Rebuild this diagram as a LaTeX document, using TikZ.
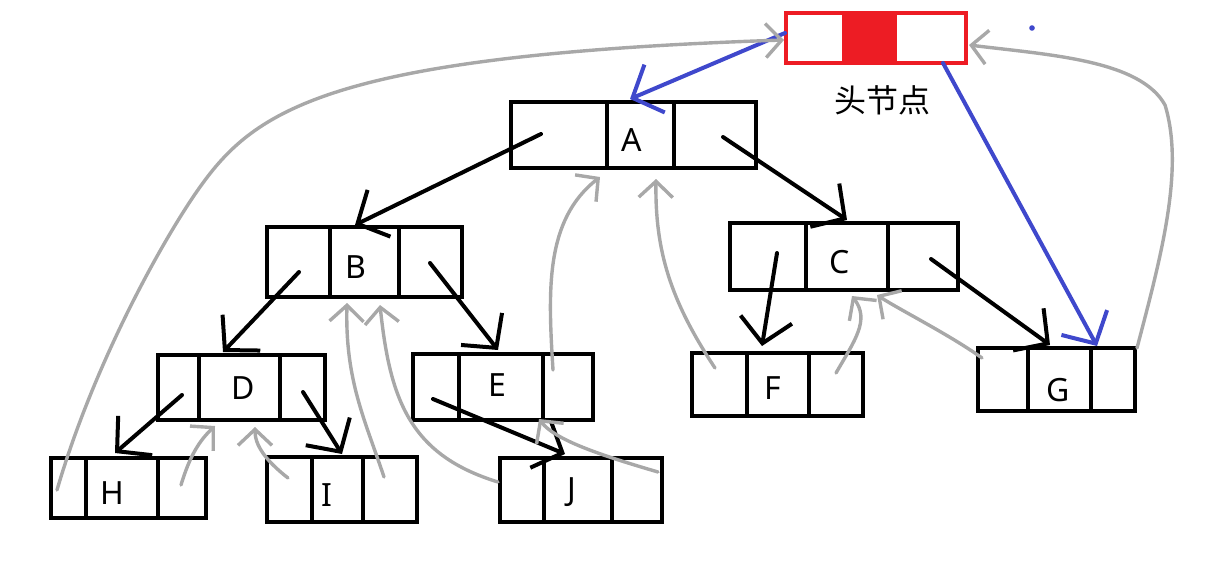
\documentclass[tikz,border=0pt]{standalone}
\usepackage{fontspec}
\setmainfont{Noto Sans}
\newfontfamily\cjk{Noto Sans CJK SC}
\usetikzlibrary{arrows.meta}
\definecolor{blu}{HTML}{3F48CC}
\definecolor{redh}{HTML}{ED1C24}
\definecolor{thr}{HTML}{A8A8A8}
\tikzset{
 box/.style={draw=black, line width=2pt, inner sep=0pt, outer sep=0pt},
 divl/.style={black, line width=2pt},
 lab/.style={inner sep=0pt, font=\fontsize{16}{18}\selectfont},
 ptr/.style={black, line width=2pt, line cap=round, -{Straight Barb[length=12pt,width=26pt]}},
 bptr/.style={blu, line width=2pt, line cap=round, -{Straight Barb[length=12pt,width=26pt]}},
 thread/.style={thr, line width=1.7pt, line cap=round, -{Straight Barb[length=8pt,width=17pt]}},
}
\newcommand\mybox[9]{%
 \pgfmathsetmacro\bw{(#4-#2)/2}\pgfmathsetmacro\bh{(#5-#3)/2}%
 \node[box, minimum width=\bw pt, minimum height=\bh pt] (#1) at ({(#2+#4)/2},{(#3+#5)/2}) {};
 \draw[divl] (#6,#3) -- (#6,#5) (#7,#3) -- (#7,#5);
 \node[lab] (#1t) at (#9) {#8};
}
\begin{document}
\begin{tikzpicture}[x=0.5pt,y=-0.5pt]
\useasboundingbox (0,0) rectangle (1215,568);
% head node
\fill[redh] (842,14) rectangle (897,62);
\node[draw=redh, line width=1.8pt, inner sep=0pt, minimum width=90pt, minimum height=25pt] (head) at (876,38) {};
\node[inner sep=0pt, font=\cjk\fontsize{16}{18}\selectfont] (headt) at (882,100) {头节点};
\fill[blu] (1032,28) circle (1.4pt);
% tree nodes
\mybox{A}{511}{102}{756}{168}{607}{674}{A}{632,140}
\mybox{B}{267}{227}{462}{297}{330}{399}{B}{356,267}
\mybox{C}{730}{223}{958}{290}{806}{888}{C}{840,262}
\mybox{D}{158}{355}{325}{420}{199}{280}{D}{243,388}
\mybox{E}{413}{354}{593}{420}{459}{543}{E}{497,385}
\mybox{F}{692}{353}{863}{416}{747}{809}{F}{773,388}
\mybox{G}{978}{348}{1135}{411}{1028}{1091}{G}{1058,390}
\mybox{H}{51}{458}{206}{518}{86}{158}{H}{112,493}
\mybox{I}{267}{457}{417}{522}{312}{363}{I}{327,495}
\mybox{J}{500}{458}{662}{522}{544}{612}{J}{572,492}
% pointer anchors
\coordinate (aL) at (541,134); \coordinate (aR) at (723,137);
\coordinate (bL) at (299,272); \coordinate (bR) at (430,263);
\coordinate (cL) at (777,253); \coordinate (cR) at (931,259);
\coordinate (dL) at (182,395); \coordinate (dR) at (303,392);
\coordinate (eL) at (433,399);
\coordinate (Btop) at (355,225); \coordinate (Ctop) at (847,220);
\coordinate (Dtop) at (223,352); \coordinate (Etop) at (498,350);
\coordinate (Htop) at (115,453); \coordinate (Itop) at (342,454);
\coordinate (Jtop) at (565,454); \coordinate (Ftop) at (762,346);
\coordinate (Gtop) at (1050,345);
\draw[ptr] (aL) -- (Btop);
\draw[ptr] (aR) -- (Ctop);
\draw[ptr] (bL) -- (Dtop);
\draw[ptr] (bR) -- (Etop);
\draw[ptr] (dL) -- (Htop);
\draw[ptr] (dR) -- (Itop);
\draw[ptr] (eL) -- (Jtop);
\draw[ptr] (cL) -- (Ftop);
\draw[ptr] (cR) -- (Gtop);
% head pointers
\coordinate (hL) at (785,33); \coordinate (hB) at (943,63);
\coordinate (Atop) at (630,99); \coordinate (Gr) at (1097,346);
\draw[bptr] (hL) -- (Atop);
\draw[bptr] (hB) -- (Gr);
% threads
\coordinate (hl0) at (57,490); \coordinate (hlE) at (784,40);
\coordinate (hr0) at (181,485); \coordinate (Dbl) at (215,426);
\coordinate (il0) at (288,478); \coordinate (Dbr) at (255,427);
\coordinate (ir0) at (384,477); \coordinate (Bbl) at (347,303);
\coordinate (jl0) at (498,482); \coordinate (Bbr) at (380,305);
\coordinate (jr0) at (658,472); \coordinate (Ebr) at (539,419);
\coordinate (er0) at (553,370); \coordinate (Abl) at (600,177);
\coordinate (fl0) at (715,368); \coordinate (Abr) at (656,179);
\coordinate (fr0) at (836,373); \coordinate (Cbl) at (852,296);
\coordinate (gl0) at (982,358); \coordinate (Cbr) at (877,295);
\coordinate (gr0) at (1137,348); \coordinate (hrE) at (969,45);
\draw[thread] (hl0) .. controls (95,360) and (165,236) .. (200,187) .. controls (255,110) and (330,55) .. (hlE);
\draw[thread] (hr0) .. controls (190,455) and (200,440) .. (Dbl);
\draw[thread] (il0) .. controls (265,460) and (255,445) .. (Dbr);
\draw[thread] (ir0) .. controls (365,420) and (345,380) .. (Bbl);
\draw[thread] (jl0) .. controls (410,455) and (390,400) .. (Bbr);
\draw[thread] (jr0) .. controls (600,455) and (555,440) .. (Ebr);
\draw[thread] (er0) .. controls (548,290) and (545,220) .. (Abl);
\draw[thread] (fl0) .. controls (670,300) and (655,250) .. (Abr);
\draw[thread] (fr0) .. controls (855,340) and (870,320) .. (Cbl);
\draw[thread] (gl0) .. controls (950,335) and (900,310) .. (Cbr);
\draw[thread] (gr0) .. controls (1160,260) and (1185,170) .. (1165,105) .. controls (1140,60) and (1050,55) .. (hrE);
\end{tikzpicture}
\end{document}
